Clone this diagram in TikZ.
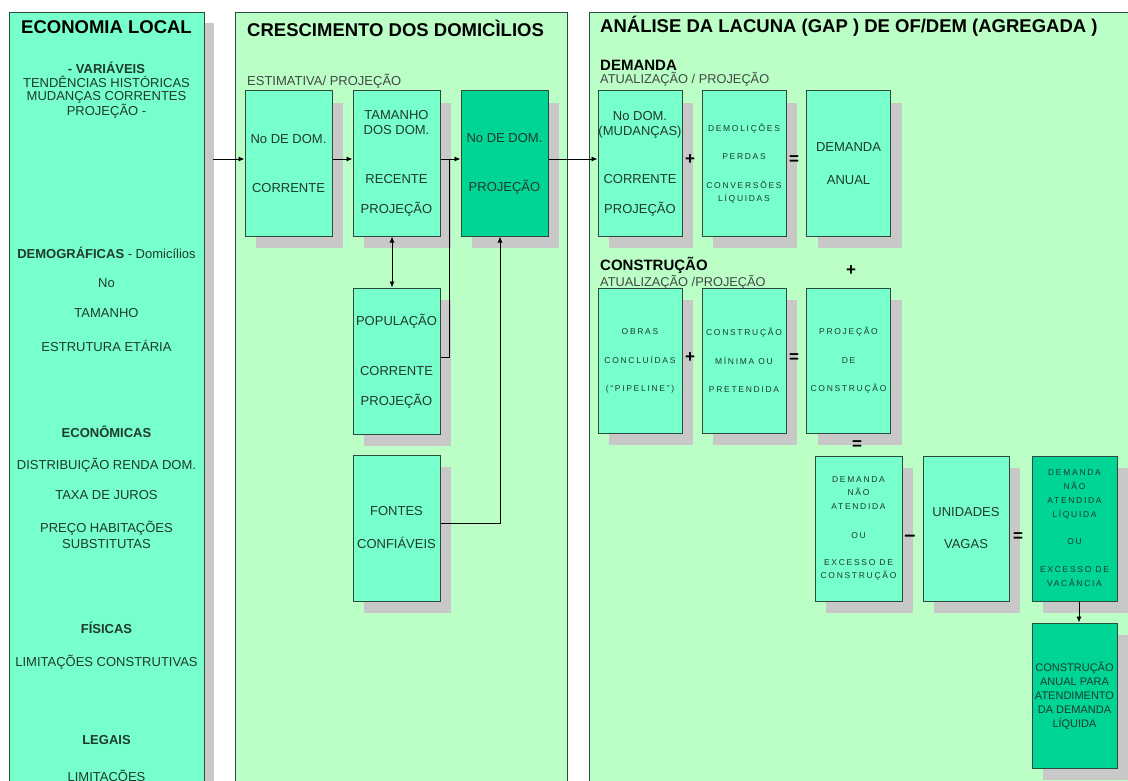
\documentclass[tikz,border=0pt]{standalone}
\usepackage{fontspec}
\setmainfont{Liberation Sans}
\newfontfamily\spc[LetterSpace=20]{Liberation Sans}
\usetikzlibrary{arrows.meta,shadows}
\definecolor{aqua}{HTML}{77FFCC}
\definecolor{pale}{HTML}{BBFFC6}
\definecolor{darkbox}{HTML}{00D596}
\definecolor{shade}{HTML}{C8C8C8}
\definecolor{edge}{HTML}{2E4A3C}
\definecolor{txt}{HTML}{1F3A2E}
\definecolor{subtxt}{HTML}{404848}
\tikzset{
  panel/.style={draw=edge, line width=1.2pt, anchor=north west, inner sep=0pt},
  boxn/.style={draw=edge, line width=1pt, fill=aqua, minimum width=87pt, minimum height=145pt,
    inner sep=0pt, align=center, text=txt, font=\fontsize{13}{15}\selectfont,
    drop shadow={shadow xshift=11pt, shadow yshift=-12pt, fill=shade, opacity=1}},
  dboxn/.style={boxn, fill=darkbox},
  smalltxt/.style={font=\spc\fontsize{8.5}{13}\selectfont},
  ltxt/.style={text=txt, font=\fontsize{13}{15}\selectfont, inner sep=0pt, align=center},
  ptitle/.style={anchor=west, inner sep=0pt, text=black, font=\bfseries\fontsize{18.5}{20}\selectfont},
  subhead/.style={anchor=west, inner sep=0pt, text=black, font=\bfseries\fontsize{15}{16}\selectfont},
  subnote/.style={anchor=west, inner sep=0pt, text=subtxt, font=\fontsize{12.8}{14}\selectfont},
  opn/.style={inner sep=0pt, text=black, font=\bfseries\fontsize{17}{18}\selectfont},
  arr/.style={-{Latex[length=6pt,width=5pt]}, line width=0.9pt, black},
  dblarr/.style={{Latex[length=6pt,width=5pt]}-{Latex[length=6pt,width=5pt]}, line width=0.9pt, black},
  plain/.style={line width=0.9pt, black}
}
\begin{document}
\begin{tikzpicture}[x=1pt,y=-1pt]
\useasboundingbox (0,0) rectangle (1128,781);
\clip (0,0) rectangle (1128,781);
\fill[white] (0,0) rectangle (1128,781);

% panels
\node[panel, fill=aqua, minimum width=195pt, minimum height=800pt,
  drop shadow={shadow xshift=9pt, shadow yshift=-10pt, fill=shade, opacity=1}] (lp) at (9,12) {};
\node[panel, fill=pale, minimum width=332pt, minimum height=800pt] (mp) at (235,12) {};
\node[panel, fill=pale, minimum width=560pt, minimum height=800pt] (rp) at (589,12) {};

% left panel texts
\node[ltxt, text=black, font=\bfseries\fontsize{18.5}{20}\selectfont] (lt0) at (106.5,27.5) {ECONOMIA LOCAL};
\node[ltxt, font=\fontsize{13}{13.3}\selectfont] (lt1) at (106.5,90.5) {\textbf{- VARIÁVEIS}\\TENDÊNCIAS HISTÓRICAS\\MUDANÇAS CORRENTES\\PROJEÇÃO -};
\node[ltxt] (lt2) at (106.5,253) {\textbf{DEMOGRÁFICAS} - Domicílios};
\node[ltxt] (lt3) at (106.5,283) {No};
\node[ltxt] (lt4) at (106.5,313) {TAMANHO};
\node[ltxt] (lt5) at (106.5,346) {ESTRUTURA ETÁRIA};
\node[ltxt] (lt6) at (106.5,432) {\textbf{ECONÔMICAS}};
\node[ltxt] (lt7) at (106.5,465) {DISTRIBUIÇÃO RENDA DOM.};
\node[ltxt] (lt8) at (106.5,495) {TAXA DE JUROS};
\node[ltxt, font=\fontsize{13}{16}\selectfont] (lt9) at (106.5,535) {PREÇO HABITAÇÕES\\SUBSTITUTAS};
\node[ltxt] (lt10) at (106.5,628) {\textbf{FÍSICAS}};
\node[ltxt] (lt11) at (106.5,662) {LIMITAÇÕES CONSTRUTIVAS};
\node[ltxt] (lt12) at (106.5,740) {\textbf{LEGAIS}};
\node[ltxt] (lt13) at (106.5,777.5) {LIMITAÇÕES};

% middle panel
\node[ptitle] (mt) at (247,28.5) {CRESCIMENTO DOS DOMICÌLIOS};
\node[subnote, font=\fontsize{13}{14}\selectfont] (est) at (247,81) {ESTIMATIVA/ PROJEÇÃO};

\node[boxn] (b1) at (288.5,163.5) {No DE DOM.\\[34pt]CORRENTE};
\node[boxn] (b2) at (396.5,163.5) {TAMANHO\\DOS DOM.\\[34pt]RECENTE\\[15pt]PROJEÇÃO};
\node[dboxn] (b3) at (504.5,163.5) {No DE DOM.\\[34pt]PROJEÇÃO};
\node[boxn, minimum height=146pt] (b4) at (396.5,361) {POPULAÇÃO\\[35pt]CORRENTE\\[15pt]PROJEÇÃO};
\node[boxn, minimum height=146pt] (b5) at (396.5,528) {FONTES\\[18pt]CONFIÁVEIS};

% right panel
\node[ptitle] (rt) at (600,26) {ANÁLISE DA LACUNA (GAP ) DE OF/DEM (AGREGADA )};
\node[subhead] (dem) at (600,65) {DEMANDA};
\node[subnote] (atu1) at (600,79.5) {ATUALIZAÇÃO / PROJEÇÃO};
\node[subhead] (con) at (600,265) {CONSTRUÇÃO};
\node[subnote] (atu2) at (600,282) {ATUALIZAÇÃO /PROJEÇÃO};

\node[boxn, minimum width=84pt] (a1) at (640,163.5) {No DOM.\\(MUDANÇAS)\\[33pt]CORRENTE\\[15pt]PROJEÇÃO};
\node[boxn, minimum width=84pt, smalltxt] (a2) at (744,163.5) {DEMOLIÇÕES\\[15pt]PERDAS\\[16pt]CONVERSÕES\\LÍQUIDAS};
\node[boxn, minimum width=84pt] (a3) at (848.5,163.5) {DEMANDA\\[18pt]ANUAL};

\node[boxn, minimum width=84pt, smalltxt] (c1b) at (640,360.5) {OBRAS\\[16pt]CONCLUÍDAS\\[15pt](“PIPELINE”)};
\node[boxn, minimum width=84pt, smalltxt] (c2b) at (744,360.5) {CONSTRUÇÃO\\[16pt]MÍNIMA OU\\[15pt]PRETENDIDA};
\node[boxn, minimum width=84pt, smalltxt] (c3b) at (848.5,360.5) {PROJEÇÃO\\[16pt]DE\\[15pt]CONSTRUÇÃO};

\node[boxn, font=\spc\fontsize{8.5}{13.5}\selectfont] (g1) at (858.5,528.5) {DEMANDA\\NÃO\\ATENDIDA\\[15.5pt]OU\\[13.5pt]EXCESSO DE\\CONSTRUÇÃO};
\node[boxn, minimum width=86pt] (g2) at (966,528.5) {UNIDADES\\[17pt]VAGAS};
\node[dboxn, minimum width=85pt, font=\spc\fontsize{8.5}{14}\selectfont] (g3) at (1074.5,528.5) {DEMANDA\\NÃO\\ATENDIDA\\LÍQUIDA\\[13pt]OU\\[14pt]EXCESSO DE\\VACÂNCIA};
\node[dboxn, minimum width=85pt, font=\fontsize{11}{14}\selectfont] (g4) at (1074.5,695.5) {CONSTRUÇÃO\\ANUAL PARA\\ATENDIMENTO\\DA DEMANDA\\LÍQUIDA};

% operators
\node[opn] (op1) at (690,160) {+};
\node[opn] (op2) at (794,160) {=};
\node[opn] (op3) at (851,271) {+};
\node[opn] (op4) at (690,358) {+};
\node[opn] (op5) at (794,358) {=};
\node[opn] (op6) at (857,445) {=};
\node[opn, font=\bfseries\fontsize{20}{20}\selectfont] (op7) at (910,538) {–};
\node[opn] (op8) at (1018,537) {=};

% connectors
\coordinate (lpout) at (213,159);
\coordinate (jn) at (449,159);
\draw[arr] (lpout) -- (lpout -| b1.west);
\draw[arr] (b1.east |- lpout) -- (b2.west |- lpout);
\draw[arr] (b2.east |- jn) -- (b3.west |- jn);
\draw[plain] ([yshift=4pt]b4.east) -| (jn);
\draw[dblarr] ([xshift=-4.5pt]b2.south) -- ([xshift=-4.5pt]b4.north);
\draw[arr] ([yshift=5pt]b5.east) -| ([xshift=-4.5pt]b3.south);
\draw[arr] (b3.east |- jn) -- (a1.west |- jn);
\draw[arr] ([xshift=4.5pt]g3.south) -- ([xshift=4.5pt]g4.north);
\end{tikzpicture}
\end{document}
